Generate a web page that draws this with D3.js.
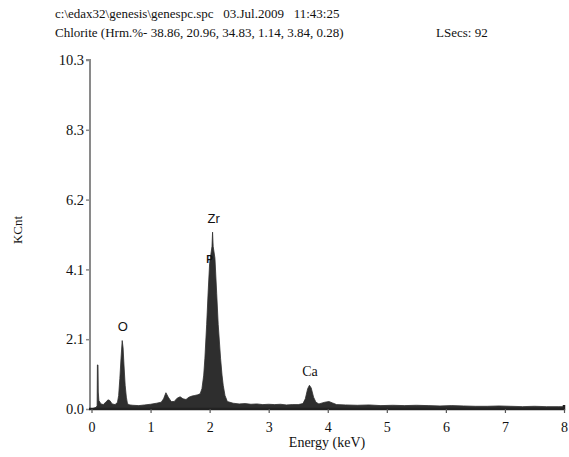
<!DOCTYPE html>
<html>
<head>
  <meta charset="utf-8">
  <title>EDAX spectrum - Chlorite</title>
  <style>
    body { margin: 0; background: #fff; }
    svg text { font-family: "Liberation Serif", "DejaVu Serif", serif; fill: #111; white-space: pre; }
    .peak-label { font-family: "Liberation Sans", Arial, sans-serif; font-size: 13px; }
  </style>
</head>
<body>
  <svg width="569" height="457"></svg>

  <script src="https://d3js.org/d3.v7.min.js"></script>
  <script>
    // header lines of the spectrum file
    var headerLine1 = 'c:\\edax32\\genesis\\genespc.spc   03.Jul.2009   11:43:25';
    var headerLine2 = 'Chlorite (Hrm.%- 38.86, 20.96, 34.83, 1.14, 3.84, 0.28)';
    var headerLsecs = 'LSecs: 92';

    // axis ticks
    var xTicks = [0, 1, 2, 3, 4, 5, 6, 7, 8];
    var yTicks = [0, 2.06, 4.12, 6.18, 8.24, 10.3];
    var yTickLabels = ['0.0', '2.1', '4.1', '6.2', '8.3', '10.3'];

    // spectrum: energy (keV)
    var energy = [
      0.00, 0.08, 0.095, 0.10, 0.11, 0.115, 0.125, 0.16, 0.20, 0.25, 0.28, 0.31, 0.35, 0.40,
      0.44, 0.46, 0.48, 0.50, 0.52, 0.535, 0.55, 0.57, 0.59, 0.61, 0.65, 0.70, 0.80, 0.90,
      1.00, 1.10, 1.18, 1.22, 1.26, 1.30, 1.35, 1.40, 1.45, 1.50, 1.55, 1.60, 1.65, 1.70,
      1.75, 1.80, 1.84, 1.87, 1.90, 1.92, 1.95, 1.975, 2.00, 2.04, 2.05, 2.06, 2.09, 2.12,
      2.145, 2.185, 2.21, 2.23, 2.26, 2.30, 2.40, 2.50, 2.60, 2.70, 2.80, 2.90, 3.00, 3.10,
      3.20, 3.30, 3.40, 3.50, 3.58, 3.62, 3.66, 3.69, 3.72, 3.76, 3.80, 3.85, 3.95, 4.02,
      4.08, 4.15, 4.30, 4.50, 4.70, 4.90, 5.10, 5.30, 5.50, 5.70, 5.90, 6.10, 6.30, 6.50,
      6.70, 6.90, 7.10, 7.30, 7.50, 7.70, 7.90, 8.00
    ];
    // counts (KCnt)
    var counts = [
      0.00, 0.05, 0.10, 1.30, 1.30, 0.50, 0.25, 0.15, 0.13, 0.22, 0.27, 0.25, 0.15, 0.13,
      0.20, 0.40, 0.90, 1.50, 2.02, 1.80, 1.30, 0.70, 0.35, 0.15, 0.12, 0.11, 0.10, 0.12,
      0.14, 0.17, 0.20, 0.30, 0.48, 0.35, 0.22, 0.22, 0.32, 0.36, 0.30, 0.28, 0.35, 0.38,
      0.40, 0.42, 0.45, 0.60, 1.00, 1.50, 2.50, 3.45, 4.30, 4.80, 5.22, 4.80, 4.45, 3.40,
      2.50, 1.50, 1.00, 0.70, 0.40, 0.22, 0.17, 0.15, 0.16, 0.14, 0.15, 0.13, 0.14, 0.13,
      0.14, 0.12, 0.13, 0.13, 0.16, 0.30, 0.60, 0.70, 0.62, 0.35, 0.20, 0.15, 0.20, 0.22,
      0.18, 0.13, 0.12, 0.11, 0.12, 0.10, 0.11, 0.10, 0.11, 0.10, 0.09, 0.10, 0.09, 0.08,
      0.08, 0.09, 0.08, 0.07, 0.08, 0.07, 0.07, 0.07
    ];

    // element markers
    var peakNames = ['O', 'Zr', 'Ca'];
    var peakEnergy = [0.53, 2.07, 3.70];
    var peakLabelValue = [2.3, 5.5, 0.97];

    var svg = d3.select('svg');

    var x = d3.scaleLinear().domain([0, 8]).range([91.5, 564]);
    var y = d3.scaleLinear().domain([0, 10.3]).range([409, 60]);

    // header
    svg.append('text').attr('x', 55).attr('y', 18).style('font-size', '13px').text(headerLine1);
    svg.append('text').attr('x', 55).attr('y', 37).style('font-size', '13px').text(headerLine2);
    svg.append('text').attr('x', 436).attr('y', 37).style('font-size', '13px').text(headerLsecs);

    // spectrum area
    var points = energy.map(function(e, i) { return [e, counts[i]]; });
    var area = d3.area()
      .x(function(d) { return x(d[0]); })
      .y0(y(0))
      .y1(function(d) { return y(d[1]); });

    svg.append('path')
      .datum(points)
      .attr('d', area)
      .attr('fill', '#2e2e2e')
      .attr('stroke', '#2e2e2e')
      .attr('stroke-width', 0.8);

    // y axis
    var yAxis = d3.axisLeft(y)
      .tickValues(yTicks)
      .tickFormat(function(d, i) { return yTickLabels[i]; })
      .tickSize(4)
      .tickPadding(2);
    var gy = svg.append('g').attr('transform', 'translate(90,0)').call(yAxis);
    gy.select('.domain').attr('stroke', '#8a8a8a').attr('stroke-width', 2).attr('d', 'M-4,60H0V409');
    gy.selectAll('.tick line').attr('stroke', '#8a8a8a').attr('stroke-width', 1.5);
    gy.selectAll('.tick text')
      .style('font-family', '"Liberation Serif", serif')
      .style('font-size', '14.5px')
      .attr('fill', '#222');

    // x axis
    var xAxis = d3.axisBottom(x)
      .tickValues(xTicks)
      .tickFormat(d3.format('d'))
      .tickSize(4)
      .tickPadding(9);
    var gx = svg.append('g').attr('transform', 'translate(0,409)').call(xAxis);
    gx.select('.domain').attr('stroke', '#222').attr('stroke-width', 2.5).attr('d', 'M89,0H564V-4');
    gx.selectAll('.tick line').attr('stroke', '#555').attr('stroke-width', 1.2);
    gx.selectAll('.tick text')
      .style('font-family', '"Liberation Serif", serif')
      .style('font-size', '14px')
      .attr('fill', '#222');

    // axis titles
    svg.append('text')
      .attr('x', 327).attr('y', 447)
      .attr('text-anchor', 'middle')
      .style('font-size', '14px')
      .text('Energy (keV)');
    svg.append('text')
      .attr('transform', 'translate(22,230) rotate(-90)')
      .attr('text-anchor', 'middle')
      .style('font-size', '13px')
      .text('KCnt');

    // element labels
    svg.selectAll('.peak-label')
      .data(peakNames)
      .enter().append('text')
      .attr('class', 'peak-label')
      .attr('x', function(d, i) { return x(peakEnergy[i]); })
      .attr('y', function(d, i) { return y(peakLabelValue[i]); })
      .attr('text-anchor', 'middle')
      .style('font-family', function(d) { return d === 'Ca' ? '"Liberation Serif", serif' : null; })
      .style('font-size', function(d) { return d === 'Ca' ? '14px' : null; })
      .text(function(d) { return d; });

    // the small "P" marker sitting on the Zr peak
    svg.append('text')
      .attr('x', x(2.0)).attr('y', y(4.3))
      .attr('text-anchor', 'middle')
      .style('font-family', '"Liberation Sans", sans-serif')
      .style('font-size', '10px')
      .style('font-weight', 'bold')
      .attr('fill', '#000')
      .text('P');
  </script>
</body>
</html>
